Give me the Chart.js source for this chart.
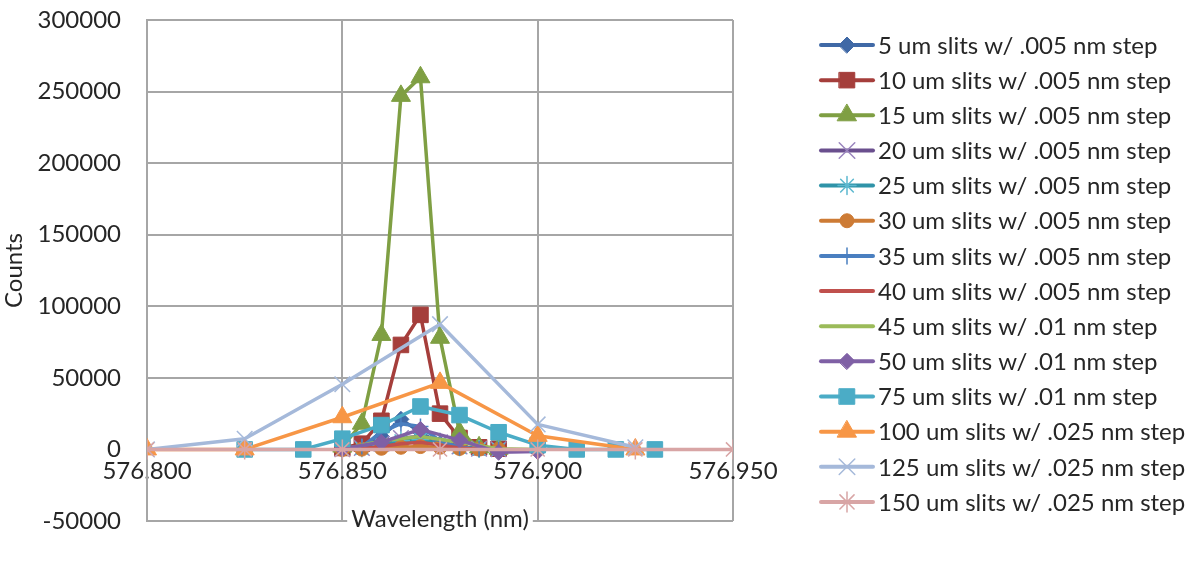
<!DOCTYPE html>
<html>
<head>
<meta charset="utf-8">
<script src="https://cdn.jsdelivr.net/npm/chart.js@4/dist/chart.umd.min.js"></script>
<style>
  html, body { margin: 0; padding: 0; background: #ffffff; }
  #wrap { width: 1204px; height: 562px; }
</style>
</head>
<body>
<div id="wrap"><canvas id="c" width="1204" height="562"></canvas></div>
<script>
// Wavelength grids (nm) for the different scan steps
const wl005 = [576.850, 576.855, 576.860, 576.865, 576.870, 576.875, 576.880, 576.885, 576.890];
const wl01 = [576.850, 576.860, 576.870, 576.880, 576.890, 576.900];
const wl75 = [576.825, 576.840, 576.850, 576.860, 576.870, 576.880, 576.890, 576.900, 576.910, 576.920, 576.930];
const wl025 = [576.800, 576.825, 576.850, 576.875, 576.900, 576.925];
const wl150 = [576.800, 576.825, 576.850, 576.875, 576.900, 576.925, 576.950];

// Counts per slit width
const um5 = [300, 1500, 9000, 21000, 12000, 4000, 1200, 400, 200];
const um10 = [1000, 4000, 20000, 73000, 94000, 25000, 8000, 1500, 500];
const um15 = [2000, 18000, 80000, 247000, 260000, 78000, 12000, 1500, 500];
const um20 = [200, 1000, 4000, 8000, 9000, 5000, 2000, 500, 100];
const um25 = [100, 800, 3000, 6000, 7000, 4000, 1500, 300, 0];
const um30 = [0, 200, 800, 1500, 2000, 1500, 700, 200, 0];
const um35 = [0, 2000, 12000, 18000, 16000, 6000, 1500, 300, -200];
const um40 = [0, 500, 2000, 4000, 5000, 3000, 1000, 200, 0];
const um45 = [0, 6000, 9000, 5000, 500, 0];
const um50 = [500, 5000, 14000, 6500, -2000, -1500];
const um75 = [0, 0, 7500, 17000, 30000, 24000, 12000, 3000, 0, 0, 0];
const um100 = [0, 0, 22500, 46500, 9500, 0];
const um125 = [0, 7500, 45500, 87500, 17500, 1500];
const um150 = [0, 0, 0, 0, 0, 0, 0];

// Axis ticks
const xMin = 576.800, xMax = 576.950, xStep = 0.05;
const yMin = -50000, yMax = 300000, yStep = 50000;

const FONT = 'Lato, "Open Sans", sans-serif';
const TEXT = '#262626';
const GRID = '#a6a6a6';

const series = [
  { label: '5 um slits w/ .005 nm step',   x: wl005, y: um5,   color: '#4069a6', marker: 'rectRot',  r: 8,  bw: 1 },
  { label: '10 um slits w/ .005 nm step',  x: wl005, y: um10,  color: '#a53e3b', marker: 'rect',     r: 11, bw: 1 },
  { label: '15 um slits w/ .005 nm step',  x: wl005, y: um15,  color: '#7f9f43', marker: 'triangle', r: 11, bw: 1 },
  { label: '20 um slits w/ .005 nm step',  x: wl005, y: um20,  color: '#6a4f8e', marker: 'crossRot', r: 11, bw: 1.5, mcolor: '#9a85be' },
  { label: '25 um slits w/ .005 nm step',  x: wl005, y: um25,  color: '#2f93a8', marker: 'star',     r: 9,  bw: 1.5, mcolor: '#5cb8cf' },
  { label: '30 um slits w/ .005 nm step',  x: wl005, y: um30,  color: '#cd7b35', marker: 'circle',   r: 7,  bw: 1 },
  { label: '35 um slits w/ .005 nm step',  x: wl005, y: um35,  color: '#4a7fc0', marker: 'cross',    r: 8,  bw: 1.5 },
  { label: '40 um slits w/ .005 nm step',  x: wl005, y: um40,  color: '#c0504d', marker: false,      r: 0,  bw: 0 },
  { label: '45 um slits w/ .01 nm step',   x: wl01,  y: um45,  color: '#9bbb59', marker: false,      r: 0,  bw: 0 },
  { label: '50 um slits w/ .01 nm step',   x: wl01,  y: um50,  color: '#7f60a5', marker: 'rectRot',  r: 8,  bw: 1 },
  { label: '75 um slits w/ .01 nm step',   x: wl75,  y: um75,  color: '#4bacc6', marker: 'rect',     r: 11, bw: 1 },
  { label: '100 um slits w/ .025 nm step', x: wl025, y: um100, color: '#f79646', marker: 'triangle', r: 11, bw: 1 },
  { label: '125 um slits w/ .025 nm step', x: wl025, y: um125, color: '#a5b9da', marker: 'crossRot', r: 11, bw: 1.5 },
  { label: '150 um slits w/ .025 nm step', x: wl150, y: um150, color: '#d8a5a5', marker: 'star',     r: 10, bw: 1.5 }
];

const datasets = series.map((s, i) => ({
  label: s.label,
  data: s.x.map((xv, k) => ({ x: xv, y: s.y[k] })),
  borderColor: s.color,
  backgroundColor: s.color,
  borderWidth: 3.5,
  borderJoinStyle: 'round',
  borderCapStyle: 'round',
  tension: 0,
  pointStyle: s.marker || 'circle',
  pointRadius: s.marker ? s.r : 0,
  pointHoverRadius: s.marker ? s.r : 0,
  pointBackgroundColor: s.color,
  pointBorderColor: s.mcolor || s.color,
  pointBorderWidth: s.bw,
  // later series are painted over earlier ones
  order: series.length - i
}));

// Legend on the right (line sample with marker, then the label) and the horizontal axis title
const sideLegend = {
  id: 'sideLegend',
  afterDraw(chart) {
    const ctx = chart.ctx;
    ctx.save();
    series.forEach((s, i) => {
      const y = 45 + i * 35.15;
      ctx.strokeStyle = s.color;
      ctx.lineWidth = 4;
      ctx.lineCap = 'round';
      ctx.beginPath();
      ctx.moveTo(821, y);
      ctx.lineTo(873, y);
      ctx.stroke();
      if (s.marker) {
        ctx.fillStyle = s.color;
        ctx.strokeStyle = s.mcolor || s.color;
        ctx.lineWidth = s.bw;
        Chart.helpers.drawPoint(ctx, { pointStyle: s.marker, radius: s.r, borderWidth: s.bw, rotation: 0 }, 847, y);
      }
      ctx.fillStyle = TEXT;
      ctx.font = '24px ' + FONT;
      ctx.textAlign = 'left';
      ctx.textBaseline = 'middle';
      ctx.fillText(s.label, 878, y + 1);
    });
    const a = chart.chartArea;
    const cx = (a.left + a.right) / 2;
    const ty = 519;
    ctx.font = '24px ' + FONT;
    const w = ctx.measureText('Wavelength (nm)').width;
    ctx.fillStyle = '#ffffff';
    ctx.fillRect(cx - w / 2 - 4, ty - 14, w + 8, 28);
    ctx.fillStyle = TEXT;
    ctx.textAlign = 'center';
    ctx.textBaseline = 'middle';
    ctx.fillText('Wavelength (nm)', cx, ty);
    ctx.restore();
  }
};

new Chart(document.getElementById('c'), {
  type: 'line',
  data: { datasets },
  options: {
    responsive: false,
    animation: false,
    devicePixelRatio: 1,
    layout: { padding: { left: 0, top: 20, right: 471, bottom: 41 } },
    plugins: { legend: { display: false }, tooltip: { enabled: false } },
    scales: {
      x: {
        type: 'linear',
        position: { y: 0 },
        min: xMin, max: xMax,
        ticks: {
          stepSize: xStep,
          callback: v => Number(v).toFixed(3),
          font: { family: FONT, size: 24 },
          color: TEXT,
          padding: 7,
          maxRotation: 0
        },
        grid: { color: GRID, lineWidth: 2, drawTicks: false },
        border: { display: true, color: GRID, width: 2 }
      },
      y: {
        min: yMin, max: yMax,
        ticks: {
          stepSize: yStep,
          callback: v => String(v),
          font: { family: FONT, size: 24 },
          color: TEXT,
          padding: 26
        },
        grid: { color: GRID, lineWidth: 2, drawTicks: false },
        border: { display: true, color: GRID, width: 2 },
        title: { display: true, text: 'Counts', font: { family: FONT, size: 24 }, color: TEXT, padding: { top: 0, bottom: 0 } },
        afterFit(scale) {
          scale.width = 147;
          scale.paddingTop = 14;
          scale.paddingBottom = 14;
        }
      }
    }
  },
  plugins: [sideLegend]
});
</script>
</body>
</html>
